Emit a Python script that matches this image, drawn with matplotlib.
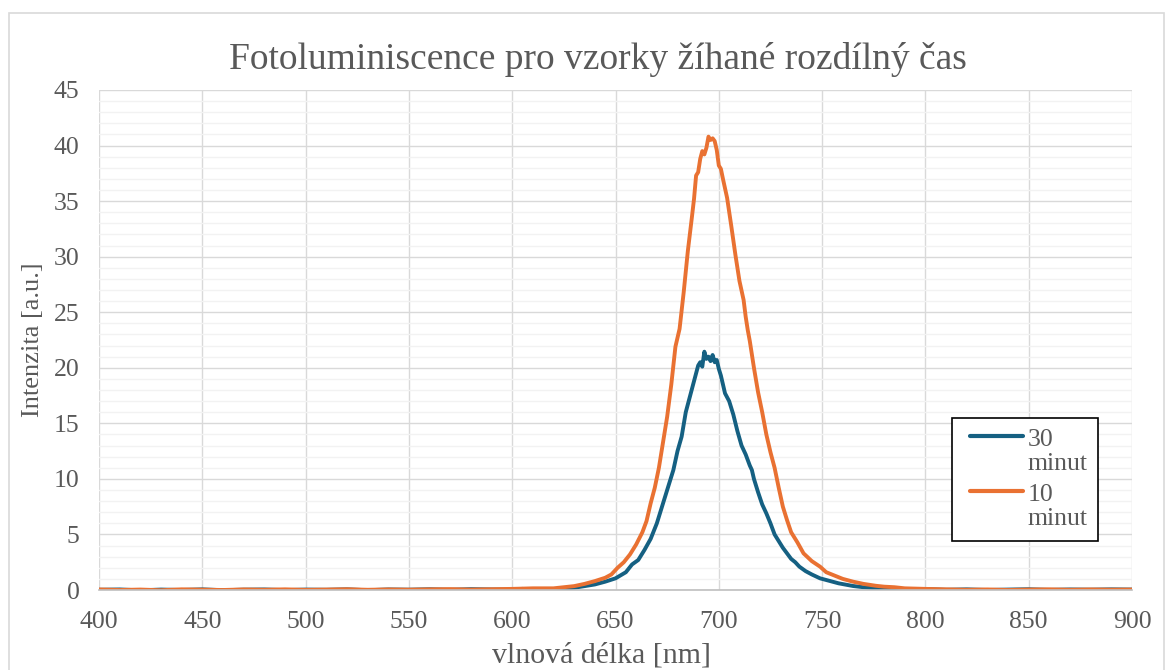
"""
Fotoluminiscence vzorku zihaneho 10 a 30 minut - prepis grafu z Excelu.
"""

import matplotlib
matplotlib.use("Agg")
import matplotlib.pyplot as plt
from matplotlib.patches import Rectangle
from matplotlib.ticker import MultipleLocator

# Data (vlnova delka [nm], intenzita [a.u.])
wl_30 = [400, 410, 420, 430, 440, 450, 460, 470, 480, 490, 500, 510, 520, 530, 540,
         550, 560, 570, 580, 590, 600, 605, 610, 615, 620, 625, 630, 635, 640, 645,
         650, 655, 658, 661, 664, 667, 670, 673, 676, 678, 680, 682, 684, 686, 688,
         690, 691, 692, 693, 694, 695, 696, 697, 698, 699, 700, 701, 702, 703, 705,
         707, 709, 711, 713, 715, 716, 717, 719, 721, 723, 725, 727, 729, 731, 733,
         735, 737, 739, 742, 745, 749, 753, 758, 765, 770, 776, 780, 790, 800, 810,
         820, 830, 840, 850, 860, 870, 880, 890, 900]
int_30 = [0.02, 0.05, -0.03, 0.04, 0.0, 0.06, -0.02, 0.03, 0.05, -0.01, 0.04, 0.02, 0.06, -0.02, 0.05,
          0.03, 0.07, 0.02, 0.08, 0.05, 0.04, 0.1, 0.02, 0.05, 0.06, 0.1, 0.2, 0.35, 0.5, 0.75,
          1.05, 1.6, 2.3, 2.7, 3.6, 4.6, 6.0, 7.8, 9.6, 10.8, 12.5, 13.8, 16.0, 17.4, 18.8,
          20.2, 20.5, 20.1, 21.45, 20.8, 21.0, 20.6, 21.15, 20.5, 20.7, 19.9, 19.3, 18.5, 17.7, 17.0,
          15.8, 14.3, 13.0, 12.2, 11.2, 10.8, 10.0, 8.8, 7.7, 6.9, 6.0, 5.0, 4.4, 3.8, 3.3,
          2.8, 2.5, 2.1, 1.7, 1.4, 1.05, 0.85, 0.6, 0.36, 0.25, 0.15, 0.1, 0.05, 0.08, 0.02,
          0.06, 0.0, 0.04, 0.07, 0.01, 0.05, 0.03, 0.06, 0.04]

wl_10 = [400, 410, 420, 430, 440, 450, 460, 470, 480, 490, 500, 510, 520, 530, 540,
         550, 560, 570, 580, 590, 600, 610, 620, 625, 630, 635, 640, 645, 648, 651,
         654, 657, 660, 663, 665, 667, 669, 671, 673, 675, 677, 679, 681, 683, 685,
         687, 688, 689, 690, 691, 692, 693, 694, 695, 696, 697, 698, 699, 700, 701,
         702, 704, 706, 708, 710, 712, 713, 714, 715, 717, 719, 721, 723, 725, 727,
         729, 731, 733, 735, 738, 741, 745, 749, 752, 756, 760, 765, 770, 776, 780,
         785, 790, 800, 810, 820, 830, 840, 850, 860, 870, 880, 890, 900]
int_10 = [0.05, 0.0, 0.04, -0.02, 0.06, 0.03, 0.0, 0.05, 0.02, 0.06, 0.01, 0.04, 0.07, 0.02, 0.05,
          0.03, 0.06, 0.08, 0.04, 0.07, 0.1, 0.15, 0.15, 0.25, 0.35, 0.55, 0.8, 1.1, 1.4, 2.0,
          2.5, 3.2, 4.1, 5.2, 6.2, 7.8, 9.2, 11.0, 13.3, 15.6, 18.5, 21.9, 23.5, 26.8, 30.5,
          33.6, 35.2, 37.3, 37.6, 38.8, 39.5, 39.2, 39.8, 40.8, 40.5, 40.65, 40.4, 39.6, 38.2, 37.9,
          37.0, 35.3, 32.8, 30.2, 27.8, 26.1, 24.6, 23.4, 22.4, 20.0, 17.8, 16.0, 14.0, 12.4, 11.0,
          9.2, 7.5, 6.3, 5.2, 4.3, 3.3, 2.6, 2.1, 1.6, 1.3, 1.0, 0.75, 0.55, 0.38, 0.3,
          0.25, 0.15, 0.1, 0.06, 0.02, 0.05, 0.0, 0.04, 0.06, 0.02, 0.05, 0.03, 0.04]

labels = ["30\nminut", "10\nminut"]
colors = ["#156082", "#E97132"]

TEXT_COLOR = "#595959"
plt.rcParams["font.family"] = ["Liberation Serif", "DejaVu Serif"]

fig = plt.figure(figsize=(11.75, 6.7), dpi=100)
ax = fig.add_axes([0.0843, 0.1194, 0.8791, 0.7463])

ax.plot(wl_30, int_30, color=colors[0], linewidth=2.8, label=labels[0])
ax.plot(wl_10, int_10, color=colors[1], linewidth=2.8, label=labels[1])

ax.set_xlim(400, 900)
ax.set_ylim(0, 45)
ax.xaxis.set_major_locator(MultipleLocator(50))
ax.yaxis.set_major_locator(MultipleLocator(5))
ax.yaxis.set_minor_locator(MultipleLocator(1))

# Mrizka ve stylu Excelu
ax.grid(True, which="major", color="#D9D9D9", linewidth=1.0)
ax.grid(True, which="minor", axis="y", color="#F2F2F2", linewidth=1.0)
ax.set_axisbelow(True)
for side in ["top", "right", "left"]:
    ax.spines[side].set_visible(False)
ax.spines["bottom"].set_color("#BFBFBF")
ax.spines["bottom"].set_linewidth(1.2)
ax.tick_params(which="both", length=0, labelsize=18.5, labelcolor=TEXT_COLOR)
ax.tick_params(axis="x", pad=15)
ax.tick_params(axis="y", pad=14)

ax.set_xlabel("vlnová délka [nm]", fontsize=21.5, color=TEXT_COLOR, va="center")
ax.set_ylabel("Intenzita [a.u.]", fontsize=19, color=TEXT_COLOR, va="center")
ax.xaxis.set_label_coords(0.486, -0.13)
ax.yaxis.set_label_coords(-0.064, 0.5)
fig.text(0.509, 0.911, "Fotoluminiscence pro vzorky žíhané rozdílný čas",
         ha="center", va="center", fontsize=27, color=TEXT_COLOR)

leg = ax.legend(loc="upper left", bbox_to_anchor=(0.826, 0.344), borderaxespad=0,
                fontsize=18.5, frameon=True, fancybox=False, framealpha=1,
                handlelength=2.05, handletextpad=0.45, borderpad=0.42,
                labelspacing=0.33)
leg.get_frame().set_edgecolor("black")
leg.get_frame().set_linewidth(1.2)
for text in leg.get_texts():
    text.set_color(TEXT_COLOR)
    text.set_linespacing(1.15)
for line in leg.get_lines():
    line.set_linewidth(3)
    line.set_solid_capstyle("round")
    line.set_ydata([y + 11 for y in line.get_ydata()])
    line.set_xdata([x + 5 for x in line.get_xdata()])

# Ramecek grafu
fig.patches.append(Rectangle((9 / 1175, -0.05), 1155 / 1175, 1 - 13 / 670 + 0.05,
                             transform=fig.transFigure, fill=False,
                             edgecolor="#D9D9D9", linewidth=1.2))

fig.savefig("out.png", dpi=100)
